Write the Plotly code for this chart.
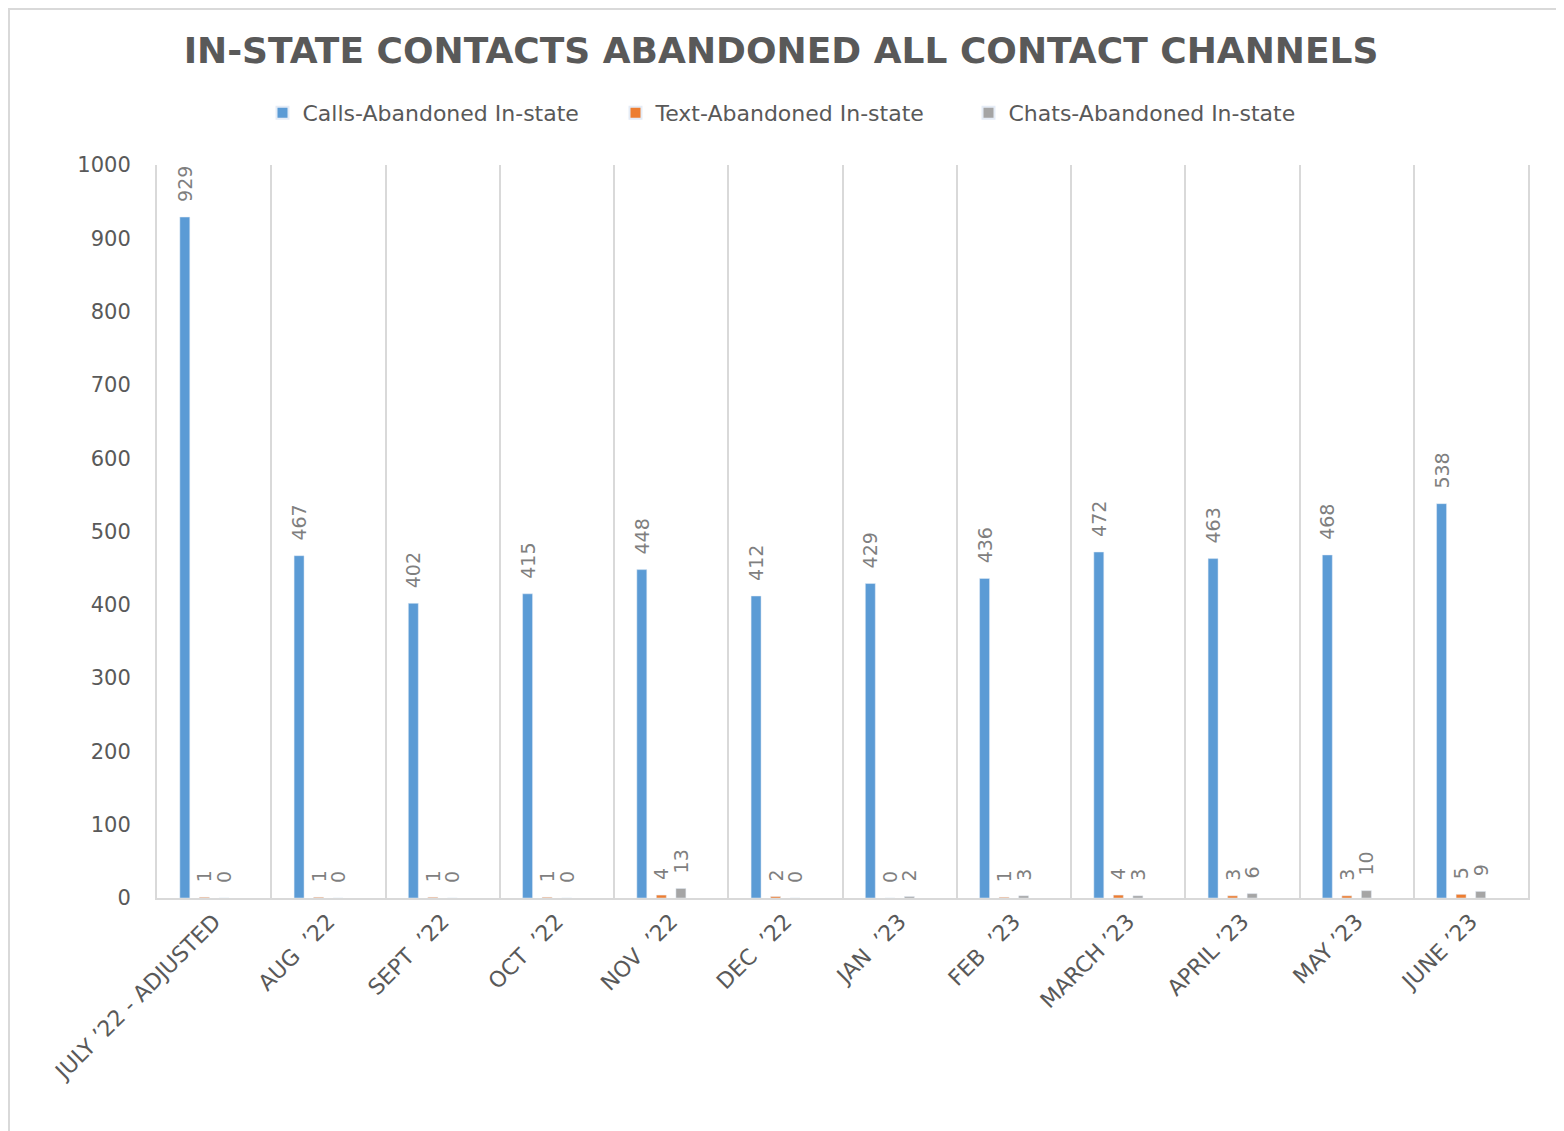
import plotly.graph_objects as go

months = ["JULY \u201922 - ADJUSTED", "AUG \u00a0\u201922", "SEPT \u00a0\u201922", "OCT \u00a0\u201922",
          "NOV \u00a0\u201922", "DEC \u00a0\u201922", "JAN \u00a0\u201923", "FEB \u00a0\u201923",
          "MARCH \u201923", "APRIL \u201923", "MAY \u201923", "JUNE \u201923"]
calls = [929, 467, 402, 415, 448, 412, 429, 436, 472, 463, 468, 538]
texts = [1, 1, 1, 1, 4, 2, 0, 1, 4, 3, 3, 5]
chats = [0, 0, 0, 0, 13, 0, 2, 3, 3, 6, 10, 9]
# empty fourth series in the source chart, it only keeps its slot in each group
blank = [None] * len(months)

# page body has an 8px margin, so the figure is a bit smaller than the window
W, H = 1556, 1123
L, R, T, B = 149, 36, 157, 233
GREY = "#595959"

fig = go.Figure()
for name, vals, col in [("Calls-Abandoned In-state", calls, "#5B9BD5"),
                        ("Text-Abandoned In-state", texts, "#ED7D31"),
                        ("Chats-Abandoned In-state", chats, "#A5A5A5")]:
    fig.add_trace(go.Bar(
        x=months, y=vals, name=name, marker_color=col,
        # labels read upwards, so leading spaces push them off the bar top
        text=vals, texttemplate="\u00a0\u00a0%{text}", textposition="outside", textangle=-90,
        constraintext="none", cliponaxis=False,
        textfont=dict(family="DejaVu Sans", size=19, color="#7F7F7F"),
    ))
fig.add_trace(go.Bar(x=months, y=blank, marker_color="#FFC000",
                     showlegend=False, hoverinfo="skip"))

# light outer border of the chart
pw, ph = W - L - R, H - T - B
fig.add_shape(type="rect", xref="paper", yref="paper",
              x0=(1 - L) / pw, x1=(W - 6 - L) / pw,
              y0=-(B + 20) / ph, y1=1 + (T - 1) / ph,
              line=dict(color="#D9D9D9", width=2), layer="below")

fig.update_layout(
    width=W, height=H,
    margin=dict(l=L, r=R, t=T, b=B),
    paper_bgcolor="white", plot_bgcolor="white",
    barmode="group", bargap=0.316, bargroupgap=0.49,
    title=dict(text="<b>IN-STATE CONTACTS ABANDONED ALL CONTACT CHANNELS</b>",
               x=773 / W, xref="container", xanchor="center",
               y=1 - 42 / H, yref="container", yanchor="middle",
               font=dict(family="DejaVu Sans", size=36, color=GREY)),
    legend=dict(orientation="h", x=784 / W, xref="container", xanchor="center",
                y=1 - 105 / H, yref="container", yanchor="middle",
                font=dict(family="DejaVu Sans", size=22, color=GREY),
                entrywidth=308, itemsizing="constant", itemwidth=30),
    font=dict(family="DejaVu Sans", color=GREY),
)
fig.update_xaxes(
    showline=True, linecolor="#D9D9D9", linewidth=2,
    showgrid=True, gridcolor="#D9D9D9", gridwidth=2, tickson="boundaries",
    ticks="", tickangle=-45,
    tickfont=dict(family="DejaVu Sans", size=22, color=GREY),
)
fig.update_yaxes(
    range=[0, 1000], dtick=100, showgrid=False, zeroline=False,
    showline=True, linecolor="#D9D9D9", linewidth=2, mirror=True,
    ticks="", ticklabelstandoff=20,
    tickfont=dict(family="DejaVu Sans", size=21, color=GREY),
)

fig.write_html("out.html")
